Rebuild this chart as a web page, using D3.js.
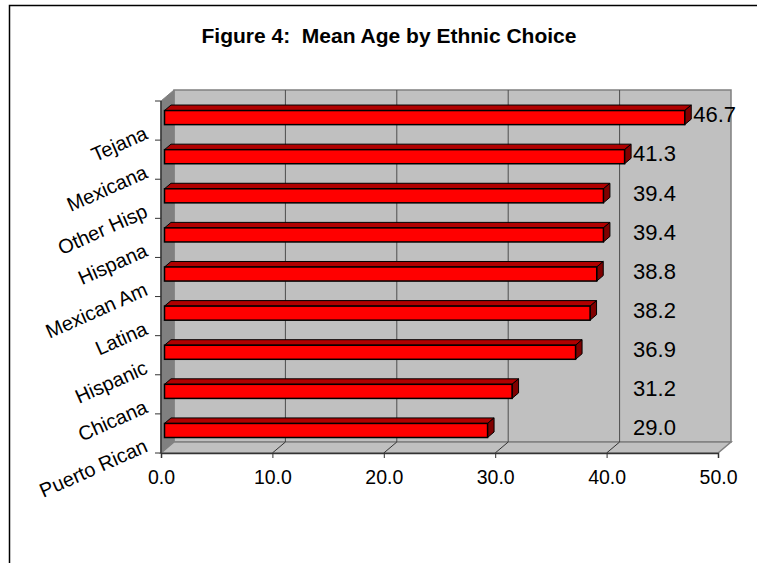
<!DOCTYPE html>
<html>
<head>
<meta charset="utf-8">
<script src="https://cdn.jsdelivr.net/npm/d3@7"></script>
<style>
  html, body { margin: 0; padding: 0; background: #fff; }
  svg { display: block; font-family: "Liberation Sans", Arial, sans-serif; }
</style>
</head>
<body>
<svg id="chart" width="757" height="563"></svg>
<script>
// ---- data ----
const categories = ["Tejana", "Mexicana", "Other Hisp", "Hispana", "Mexican Am", "Latina", "Hispanic", "Chicana", "Puerto Rican"];
const values = [46.7, 41.3, 39.4, 39.4, 38.8, 38.2, 36.9, 31.2, 29.0];
const xTicks = [0, 10, 20, 30, 40, 50];
const title = "Figure 4:  Mean Age by Ethnic Choice";

// ---- layout ----
const W = 757, H = 563;
const svg = d3.select("#chart");
const x = d3.scaleLinear().domain([0, 50]).range([161, 718]);
const y = d3.scaleBand().domain(categories).range([101, 453]).padding(0);
const DX = 13, DY = -11;          // 3D depth offset of back wall
const FF = 0.27, BF = 0.77;       // bar front / back depth fractions
const barH = y.bandwidth() * 0.36;
const x0 = x(0), x1 = x(50), yTop = y.range()[0], yBot = y.range()[1];

svg.append("rect").attr("width", W).attr("height", H).attr("fill", "#fff");
// outer chart border (extends beyond the visible area on right/bottom)
svg.append("rect").attr("x", 9.5).attr("y", 5.5).attr("width", W + 20).attr("height", H + 20)
  .attr("fill", "none").attr("stroke", "#000").attr("stroke-width", 1.5);

// title
svg.append("text").attr("x", 389).attr("y", 43).attr("text-anchor", "middle")
  .attr("font-size", 21).attr("font-weight", "bold").style("white-space", "pre")
  .attr("fill", "#000").text(title);

const pts = a => a.map(p => p.join(",")).join(" ");

// back wall
svg.append("polygon")
  .attr("points", pts([[x0 + DX, yTop + DY], [x1 + DX, yTop + DY], [x1 + DX, yBot + DY], [x0 + DX, yBot + DY]]))
  .attr("fill", "#c0c0c0").attr("stroke", "#808080").attr("stroke-width", 1.5);
// left wall
svg.append("polygon")
  .attr("points", pts([[x0, yTop], [x0 + DX, yTop + DY], [x0 + DX, yBot + DY], [x0, yBot]]))
  .attr("fill", "#808080").attr("stroke", "#808080");
// floor
svg.append("polygon")
  .attr("points", pts([[x0, yBot], [x0 + DX, yBot + DY], [x1 + DX, yBot + DY], [x1, yBot]]))
  .attr("fill", "#c0c0c0").attr("stroke", "#808080").attr("stroke-width", 1.5);

// gridlines
const inner = xTicks.filter(t => t > 0 && t < 50);
svg.append("g").selectAll("line.g").data(inner).join("line")
  .attr("x1", d => x(d) + DX).attr("x2", d => x(d) + DX)
  .attr("y1", yTop + DY).attr("y2", yBot + DY)
  .attr("stroke", "#4d4d4d").attr("stroke-width", 1);
svg.append("g").selectAll("line.f").data(inner).join("line")
  .attr("x1", d => x(d)).attr("x2", d => x(d) + DX)
  .attr("y1", yBot).attr("y2", yBot + DY)
  .attr("stroke", "#333").attr("stroke-width", 1);

// axes
const xAxis = d3.axisBottom(x).tickValues(xTicks).tickFormat(d3.format(".1f")).tickSize(5).tickPadding(12);
const gx = svg.append("g").attr("transform", `translate(0,${yBot})`).call(xAxis);
gx.select(".domain").attr("stroke", "#333").attr("stroke-width", 1.5);
gx.selectAll(".tick line").attr("stroke", "#333");
gx.selectAll(".tick text").attr("font-size", 19.5).attr("fill", "#000")
  .attr("font-family", "Liberation Sans, Arial, sans-serif");

// left axis: ticks at band boundaries
const bounds = categories.map(c => y(c)).concat([yBot]);
svg.append("line").attr("x1", x0).attr("x2", x0).attr("y1", yTop).attr("y2", yBot)
  .attr("stroke", "#333").attr("stroke-width", 1.5);
svg.append("g").selectAll("line").data(bounds).join("line")
  .attr("x1", x0 - 6).attr("x2", x0).attr("y1", d => d).attr("y2", d => d)
  .attr("stroke", "#333");

// category labels (rotated)
svg.append("g").selectAll("text").data(categories).join("text")
  .attr("transform", c => `translate(${x0 - 12},${y(c) + y.bandwidth() - 2}) rotate(-24)`)
  .attr("text-anchor", "end").attr("font-size", 20).attr("fill", "#000")
  .text(c => c);

// bars
const fx = DX * FF, fy = DY * FF, bx = DX * BF, by = DY * BF;
const bars = svg.append("g").selectAll("g").data(categories.map((c, i) => ({ c, v: values[i] }))).join("g");
bars.each(function (d) {
  const g = d3.select(this);
  const cy = y(d.c) + y.bandwidth() / 2 + fy;
  const t = cy - barH / 2, b = cy + barH / 2;
  const L = x(0) + fx, R = x(d.v) + fx;
  const ox = bx - fx, oy = by - fy;
  g.append("polygon").attr("points", pts([[L, t], [L + ox, t + oy], [R + ox, t + oy], [R, t]]))
    .attr("fill", "#b00000").attr("stroke", "#000").attr("stroke-width", 1);
  g.append("polygon").attr("points", pts([[R, t], [R + ox, t + oy], [R + ox, b + oy], [R, b]]))
    .attr("fill", "#800000").attr("stroke", "#000").attr("stroke-width", 1);
  g.append("rect").attr("x", L).attr("y", t).attr("width", R - L).attr("height", barH)
    .attr("fill", "#ff0000").attr("stroke", "#000").attr("stroke-width", 1.5);
});

// value labels
svg.append("g").selectAll("text").data(categories.map((c, i) => ({ c, v: values[i] }))).join("text")
  .attr("x", d => x(Math.max(d.v, 41.3)) + bx + 2)
  .attr("y", d => y(d.c) + y.bandwidth() / 2 + fy - 3)
  .attr("dy", "0.35em").attr("font-size", 22).attr("fill", "#000")
  .text(d => d3.format(".1f")(d.v));
</script>
</body>
</html>
